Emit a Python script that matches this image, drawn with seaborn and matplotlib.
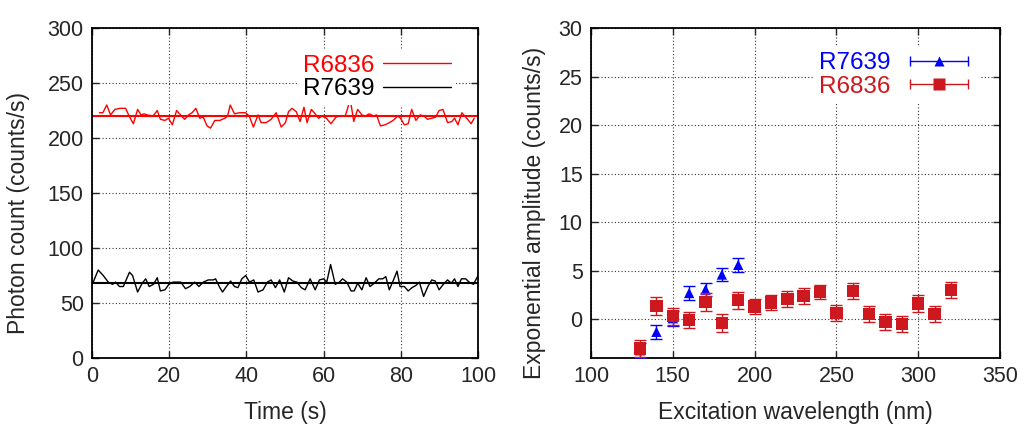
import numpy as np
import pandas as pd
import matplotlib
matplotlib.use("Agg")
import matplotlib.pyplot as plt
import seaborn as sns
from matplotlib.lines import Line2D
from matplotlib.legend_handler import HandlerLine2D, HandlerTuple

# left panel: photon count vs time
red_t = [1.9, 2.8, 3.8, 4.8, 5.9, 7.2, 8.7, 9.6, 10.7, 11.8, 12.7, 13.5, 14.3, 15.8, 16.9,
         17.7, 18.9, 19.8, 20.8, 21.9, 22.9, 24.0, 25.0, 25.9, 26.9, 27.9, 28.8, 29.8, 30.7, 31.8,
         33.1, 34.4, 35.1, 35.8, 36.9, 38.2, 39.8, 40.7, 41.8, 43.0, 43.8, 45.1, 46.4, 47.7, 49.0,
         50.1, 50.9, 51.8, 52.9, 53.9, 54.9, 55.7, 56.8, 57.8, 58.7, 59.6, 60.7, 61.9, 63.2,
         64.1, 65.6, 66.9, 67.8, 68.8, 69.9, 70.8, 71.8, 72.9, 73.7, 74.7, 75.9, 77.0, 78.0, 79.2,
         79.9, 80.9, 81.9, 82.8, 83.9, 85.0, 86.0, 86.9, 88.0, 89.0, 89.9, 90.9, 92.1, 93.2, 93.9,
         94.8, 95.8, 97.3, 98.2, 99.0]
red_counts = [223, 223, 230, 221, 226, 227, 227, 220, 213, 226, 221, 222, 221, 220, 225,
              217, 216, 218, 212, 225, 221, 217, 221, 223, 227, 218, 219, 211, 209, 216,
              216, 218, 220, 230, 222, 223, 223, 220, 210, 221, 214, 214, 217, 223, 210,
              214, 224, 227, 224, 215, 228, 214, 226, 222, 218, 220, 218, 213, 219,
              220, 220, 235, 215, 226, 221, 220, 222, 220, 221, 211, 212, 214, 216, 220,
              218, 212, 213, 226, 216, 221, 220, 217, 218, 219, 225, 226, 214, 215, 218,
              212, 223, 217, 213, 218]
black_t = [0.3, 1.6, 2.9, 4.2, 5.3, 6.1, 7.1, 8.1, 9.7, 10.5, 11.8, 13.0, 13.9, 14.8, 15.9,
           16.9, 17.7, 18.9, 19.9, 21.0, 22.1, 23.0, 24.2, 25.3, 26.6, 27.7, 28.8, 30.1, 31.4, 32.0,
           33.1, 33.8, 34.8, 35.9, 36.9, 37.8, 38.8, 39.8, 40.8, 41.9, 43.0, 44.3, 45.4, 46.4, 47.5,
           48.6, 49.8, 50.9, 52.0, 53.1, 54.2, 55.2, 56.5, 57.8, 58.9, 60.0, 60.8, 61.8, 63.0,
           64.1, 64.9, 66.0, 67.1, 67.9, 68.8, 69.9, 71.0, 72.0, 73.1, 74.3, 75.3, 76.1, 77.0, 78.1,
           79.0, 79.8, 80.9, 81.9, 82.9, 83.9, 84.8, 85.9, 87.0, 88.0, 88.9, 89.9, 91.0, 92.1, 93.1,
           93.9, 94.8, 95.7, 96.8, 97.7, 98.8, 100.0]
black_counts = [69, 80, 75, 69, 67, 69, 65, 65, 78, 75, 60, 68, 72, 65, 67,
                73, 61, 62, 67, 69, 69, 69, 63, 65, 69, 65, 69, 71, 71, 72,
                64, 60, 65, 70, 65, 64, 72, 75, 69, 71, 60, 62, 69, 71, 64,
                71, 60, 73, 70, 69, 64, 62, 72, 62, 71, 72, 69, 85, 67,
                69, 72, 69, 61, 61, 68, 62, 73, 65, 68, 72, 72, 74, 62, 71,
                79, 65, 65, 61, 64, 66, 69, 56, 65, 71, 70, 62, 67, 71, 68,
                72, 65, 72, 72, 69, 67, 75]
red_fit = 220
black_fit = 68

# right panel: exponential amplitude vs excitation wavelength
wl_r7639 = [130, 140, 150, 160, 170, 180, 190]
amp_r7639 = [-3.2, -1.3, 0.1, 2.7, 3.05, 4.6, 5.6]
err_r7639 = [0.75, 0.7, 0.75, 0.75, 0.7, 0.7, 0.75]
wl_r6836 = [130, 140, 150, 160, 170, 180, 190, 200, 210, 220, 230, 240, 250, 260, 270, 280, 290, 300, 310, 320]
amp_r6836 = [-3.0, 1.35, 0.3, -0.1, 1.75, -0.4, 1.95, 1.3, 1.7, 2.1, 2.4, 2.8, 0.65, 2.9, 0.55, -0.3, -0.5, 1.6, 0.55, 3.0]
err_r6836 = [0.85, 0.9, 0.85, 0.85, 0.9, 0.9, 0.85, 0.8, 0.8, 0.8, 0.8, 0.7, 0.85, 0.8, 0.85, 0.8, 0.8, 0.85, 0.8, 0.8]

sns.set_style("ticks")
plt.rcParams['font.family'] = ['Liberation Sans', 'DejaVu Sans']
fs_tick = 15.5
fs_lab = 16.5
fs_leg = 17.5

RED = '#ff0000'
DRED = '#cc181e'
BLUE = '#0000ff'

fig = plt.figure(figsize=(10.25, 4.38), dpi=100)
ax1 = fig.add_axes([0.0898, 0.1826, 0.3766, 0.7534])
ax2 = fig.add_axes([0.5766, 0.1826, 0.3990, 0.7534])

df_red = pd.DataFrame({'t': red_t, 'counts': red_counts})
df_black = pd.DataFrame({'t': black_t, 'counts': black_counts})
sns.lineplot(data=df_red, x='t', y='counts', color=RED, lw=1.0, estimator=None, sort=False, ax=ax1)
sns.lineplot(data=df_black, x='t', y='counts', color='black', lw=1.0, estimator=None, sort=False, ax=ax1)
ax1.axhline(red_fit, color=RED, lw=1.5)
ax1.axhline(black_fit, color='black', lw=1.5)

ax1.set_xlim(0, 100)
ax1.set_ylim(0, 300)
ax1.set_xticks(np.arange(0, 101, 20))
ax1.set_yticks(np.arange(0, 301, 50))
ax1.set_xlabel('Time (s)', fontsize=fs_lab, labelpad=10)
ax1.set_ylabel('Photon count (counts/s)', fontsize=fs_lab)
ax1.yaxis.set_label_coords(-0.16, 0.44)

h_red = Line2D([], [], color=RED, lw=1.0)
h_black = Line2D([], [], color='black', lw=1.0)
leg1 = ax1.legend([h_red, h_black], ['R6836', 'R7639'], loc='upper right', markerfirst=False,
                  fontsize=fs_leg, handlelength=2.8, handletextpad=0.35, labelspacing=0.05,
                  borderaxespad=0.9, borderpad=0.2, frameon=True, fancybox=False, framealpha=1.0,
                  edgecolor='none', facecolor='white', labelcolor=[RED, 'black'])

# right panel
ax2.errorbar(wl_r7639, amp_r7639, yerr=err_r7639, fmt='none', ecolor=BLUE, elinewidth=1.0,
             capsize=4, capthick=1.0, zorder=3)
sns.scatterplot(x=wl_r7639, y=amp_r7639, marker='^', s=55, color=BLUE, edgecolor='none',
                zorder=4, ax=ax2)
ax2.errorbar(wl_r6836, amp_r6836, yerr=err_r6836, fmt='none', ecolor=DRED, elinewidth=1.0,
             capsize=4, capthick=1.0, zorder=5)
sns.scatterplot(x=wl_r6836, y=amp_r6836, marker='s', s=80, color=DRED, edgecolor='none',
                zorder=6, ax=ax2)

ax2.set_xlim(100, 350)
ax2.set_ylim(-4, 30)
ax2.set_xticks(np.arange(100, 351, 50))
ax2.set_yticks(np.arange(0, 31, 5))
ax2.set_xlabel('Excitation wavelength (nm)', fontsize=fs_lab, labelpad=10)
ax2.set_ylabel('Exponential amplitude (counts/s)', fontsize=fs_lab)
ax2.yaxis.set_label_coords(-0.11, 0.44)

cap_b = Line2D([], [], color=BLUE, lw=1.0, marker='|', ms=7, mew=1.0)
mk_b = Line2D([], [], color=BLUE, lw=0, marker='^', ms=7, mec='none')
cap_r = Line2D([], [], color=DRED, lw=1.0, marker='|', ms=7, mew=1.0)
mk_r = Line2D([], [], color=DRED, lw=0, marker='s', ms=9, mec='none')
hmap = {cap_b: HandlerLine2D(numpoints=2), cap_r: HandlerLine2D(numpoints=2),
        mk_b: HandlerLine2D(numpoints=1), mk_r: HandlerLine2D(numpoints=1),
        tuple: HandlerTuple(ndivide=1, pad=0)}
leg2 = ax2.legend([(cap_b, mk_b), (cap_r, mk_r)], ['R7639', 'R6836'], handler_map=hmap,
                  loc='upper right', markerfirst=False, fontsize=fs_leg, handlelength=3.0,
                  handletextpad=0.5, labelspacing=0.05, borderaxespad=0.8, borderpad=0.2,
                  frameon=True, fancybox=False, framealpha=1.0, edgecolor='none',
                  facecolor='white', labelcolor=[BLUE, DRED])

for ax in (ax1, ax2):
    ax.grid(True, linestyle=(0, (1, 2)), color='#333333', lw=0.8)
    ax.set_axisbelow(True)
    ax.tick_params(direction='in', top=True, right=True, labelsize=fs_tick, length=5, width=1.0, pad=6)
    for sp in ax.spines.values():
        sp.set_visible(True)
        sp.set_linewidth(1.3)
        sp.set_color('black')

fig.savefig('out.png', dpi=100)
